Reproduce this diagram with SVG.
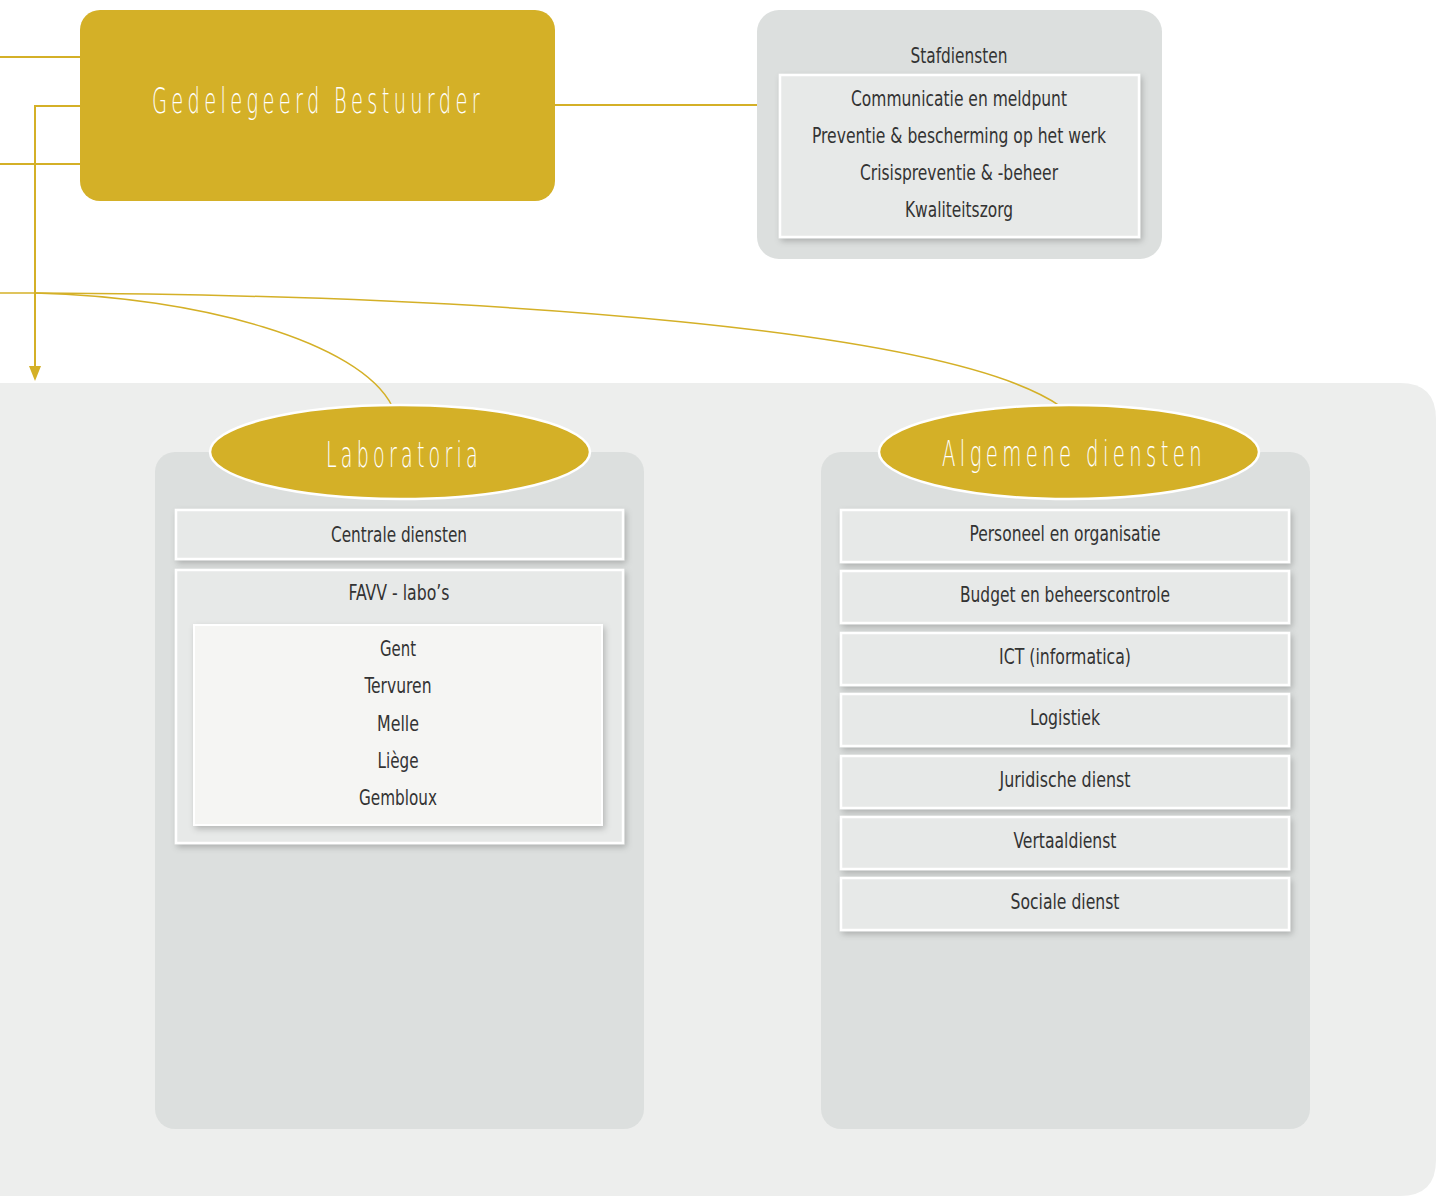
<svg xmlns="http://www.w3.org/2000/svg" width="1441" height="1197" viewBox="0 0 1441 1197">
<style>
  .gold{fill:#D4B027}
  .panel{fill:#DCDFDE}
  .box{fill:#E7E9E8;stroke:#FFFFFF;stroke-width:2.5}
  .inner{fill:#F5F5F3;stroke:#FFFFFF;stroke-width:2}
  .t{font-family:'DejaVu Sans Condensed','DejaVu Sans','Liberation Sans',sans-serif;font-size:21px;fill:#333333;text-anchor:middle}
  .title{font-family:'DejaVu Sans','Liberation Sans',sans-serif;font-size:36px;fill:#FFFFFF;text-anchor:middle;font-weight:200;letter-spacing:8px}
  .conn{fill:none;stroke:#D4B027;stroke-width:2}
  .curve{fill:none;stroke:#D4B027;stroke-width:1.5}
</style>
<defs>
  <filter id="sh" x="-10%" y="-20%" width="130%" height="150%">
    <feDropShadow dx="2" dy="3" stdDeviation="3" flood-color="#000000" flood-opacity="0.22"/>
  </filter>
</defs>
<rect width="1441" height="1197" fill="#FFFFFF"/>
<g id="background-area">
  <path d="M-40,383 H1400 Q1436,383 1436,419 V1160 Q1436,1196 1400,1196 H-40 Z" fill="#EDEEED"/>
</g>
<g id="connectors">
  <line class="conn" x1="0" y1="57" x2="80" y2="57"/>
  <line class="conn" x1="0" y1="164" x2="80" y2="164"/>
  <polyline class="conn" points="80,106 35,106 35,368"/>
  <polygon points="29,366 41,366 35,381" fill="#D4B027"/>
  <line class="conn" x1="555" y1="105" x2="757" y2="105"/>
  <line class="curve" x1="0" y1="293" x2="36" y2="293"/>
  <path class="curve" d="M35,293 C200,297 360,342 392,406"/>
  <path class="curve" d="M35,293 C500,295 950,330 1060,406"/>
</g>
<g id="gedelegeerd-bestuurder">
  <rect class="gold" x="80" y="10" width="475" height="191" rx="20"/>
  <text class="title" x="318" y="113" textLength="332" lengthAdjust="spacingAndGlyphs">Gedelegeerd Bestuurder</text>
</g>
<g id="stafdiensten">
  <rect class="panel" x="757" y="10" width="405" height="249" rx="22"/>
  <text class="t" x="959" y="63" textLength="97" lengthAdjust="spacingAndGlyphs">Stafdiensten</text>
  <rect class="box" x="780" y="75" width="359" height="162" filter="url(#sh)"/>
  <text class="t" x="959" y="106" textLength="216" lengthAdjust="spacingAndGlyphs">Communicatie en meldpunt</text>
  <text class="t" x="959" y="143" textLength="294" lengthAdjust="spacingAndGlyphs">Preventie &amp; bescherming op het werk</text>
  <text class="t" x="959" y="180" textLength="198" lengthAdjust="spacingAndGlyphs">Crisispreventie &amp; -beheer</text>
  <text class="t" x="959" y="217" textLength="108" lengthAdjust="spacingAndGlyphs">Kwaliteitszorg</text>
</g>
<g id="laboratoria">
  <rect class="panel" x="155" y="452" width="489" height="677" rx="20"/>
  <ellipse class="gold" cx="400" cy="452" rx="190" ry="47" stroke="#FFFFFF" stroke-width="2.5"/>
  <text class="title" x="404" y="467" textLength="156" lengthAdjust="spacingAndGlyphs">Laboratoria</text>
  <g id="centrale-diensten">
    <rect class="box" x="176" y="510" width="447" height="49" filter="url(#sh)"/>
    <text class="t" x="399" y="542" textLength="136" lengthAdjust="spacingAndGlyphs">Centrale diensten</text>
  </g>
  <g id="favv-labos">
    <rect class="box" x="176" y="570" width="447" height="273" filter="url(#sh)"/>
    <text class="t" x="399" y="600" textLength="101" lengthAdjust="spacingAndGlyphs">FAVV - labo’s</text>
    <rect class="inner" x="194" y="625" width="408" height="200" filter="url(#sh)"/>
    <text class="t" x="398" y="656" textLength="36" lengthAdjust="spacingAndGlyphs">Gent</text>
    <text class="t" x="398" y="693" textLength="67" lengthAdjust="spacingAndGlyphs">Tervuren</text>
    <text class="t" x="398" y="731" textLength="42" lengthAdjust="spacingAndGlyphs">Melle</text>
    <text class="t" x="398" y="768" textLength="41" lengthAdjust="spacingAndGlyphs">Liège</text>
    <text class="t" x="398" y="805" textLength="78" lengthAdjust="spacingAndGlyphs">Gembloux</text>
  </g>
</g>
<g id="algemene-diensten">
  <rect class="panel" x="821" y="452" width="489" height="677" rx="20"/>
  <ellipse class="gold" cx="1069" cy="452" rx="190" ry="47" stroke="#FFFFFF" stroke-width="2.5"/>
  <text class="title" x="1074" y="466" textLength="264" lengthAdjust="spacingAndGlyphs">Algemene diensten</text>
  <g id="personeel"><rect class="box" x="841" y="510" width="448" height="52" filter="url(#sh)"/>
    <text class="t" x="1065" y="541" textLength="191" lengthAdjust="spacingAndGlyphs">Personeel en organisatie</text></g>
  <g id="budget"><rect class="box" x="841" y="571" width="448" height="52" filter="url(#sh)"/>
    <text class="t" x="1065" y="602" textLength="210" lengthAdjust="spacingAndGlyphs">Budget en beheerscontrole</text></g>
  <g id="ict"><rect class="box" x="841" y="633" width="448" height="52" filter="url(#sh)"/>
    <text class="t" x="1065" y="664" textLength="132" lengthAdjust="spacingAndGlyphs">ICT (informatica)</text></g>
  <g id="logistiek"><rect class="box" x="841" y="694" width="448" height="52" filter="url(#sh)"/>
    <text class="t" x="1065" y="725" textLength="70" lengthAdjust="spacingAndGlyphs">Logistiek</text></g>
  <g id="juridische"><rect class="box" x="841" y="756" width="448" height="52" filter="url(#sh)"/>
    <text class="t" x="1065" y="787" textLength="131" lengthAdjust="spacingAndGlyphs">Juridische dienst</text></g>
  <g id="vertaaldienst"><rect class="box" x="841" y="817" width="448" height="52" filter="url(#sh)"/>
    <text class="t" x="1065" y="848" textLength="103" lengthAdjust="spacingAndGlyphs">Vertaaldienst</text></g>
  <g id="sociale"><rect class="box" x="841" y="878" width="448" height="52" filter="url(#sh)"/>
    <text class="t" x="1065" y="909" textLength="109" lengthAdjust="spacingAndGlyphs">Sociale dienst</text></g>
</g>
</svg>
